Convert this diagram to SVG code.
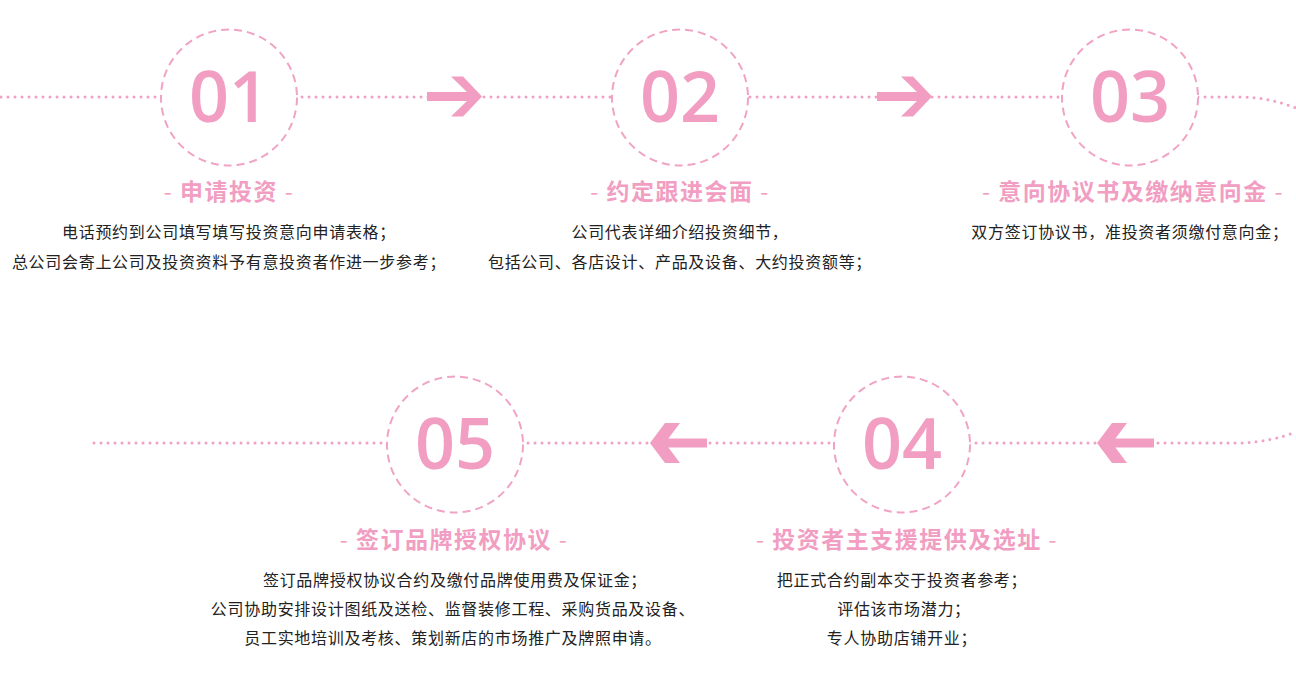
<svg xmlns="http://www.w3.org/2000/svg" width="1296" height="677" viewBox="0 0 1296 677">
<style>
.dot{fill:none;stroke:#f0a0c4;stroke-width:3;stroke-linecap:round;stroke-dasharray:0 7}
.ring{fill:#fff;stroke:#f0a3c5;stroke-width:2;stroke-dasharray:8 5}
.num{font-family:"Open Sans","Noto Sans",sans-serif;font-size:70px;font-weight:600;fill:#f19ec2;text-anchor:middle}
.ttl{font-family:"Noto Sans CJK SC",sans-serif;font-size:23px;font-weight:bold;fill:#f19ec2;text-anchor:middle;letter-spacing:1.5px}
.dash{font-weight:normal}
.txt{font-family:"Noto Sans CJK SC",sans-serif;font-size:16px;fill:#222;text-anchor:middle;letter-spacing:0.7px}
.arr{fill:#f19ec2}
</style>
<defs>
<polygon id="ar" points="-55,-4.5 -15,-4.5 -31,-20 -19,-20 0,0 -19,20 -31,20 -15,4.5 -55,4.5"/>
<polygon id="al" points="-57,-4.5 -18.4,-4.5 -30,-20 -15,-20 0,0 -15,20 -30,20 -18.4,4.5 -57,4.5"/>
</defs>
<rect width="1296" height="677" fill="#fff"/>
<g id="connectors">
<path class="dot" d="M1,97 H1240 C1262,97 1280,102 1296,108"/>
<path class="dot" d="M94,443 H1237 C1260,443 1280,438 1296,432"/>
<use href="#ar" class="arr" transform="translate(482,96.5)"/>
<use href="#ar" class="arr" transform="translate(932,96.5)"/>
<use href="#al" class="arr" transform="translate(650,443) scale(-1,1)"/>
<use href="#al" class="arr" transform="translate(1097,443) scale(-1,1)"/>
</g>
<g id="node01">
<circle class="ring" cx="229" cy="97.5" r="68"/>
<text class="num" x="229" y="122">01</text>
<text class="ttl" x="229" y="200"><tspan class="dash">- </tspan>申请投资<tspan class="dash"> -</tspan></text>
<text class="txt" x="229" y="238">电话预约到公司填写填写投资意向申请表格；</text>
<text class="txt" x="229" y="268">总公司会寄上公司及投资资料予有意投资者作进一步参考；</text>
</g>
<g id="node02">
<circle class="ring" cx="680" cy="97.5" r="68"/>
<text class="num" x="680" y="122">02</text>
<text class="ttl" x="680" y="200"><tspan class="dash">- </tspan>约定跟进会面<tspan class="dash"> -</tspan></text>
<text class="txt" x="680" y="238">公司代表详细介绍投资细节，</text>
<text class="txt" x="680" y="268">包括公司、各店设计、产品及设备、大约投资额等；</text>
</g>
<g id="node03">
<circle class="ring" cx="1130" cy="97.5" r="68"/>
<text class="num" x="1130" y="122">03</text>
<text class="ttl" x="1133" y="200"><tspan class="dash">- </tspan>意向协议书及缴纳意向金<tspan class="dash"> -</tspan></text>
<text class="txt" x="1130" y="238">双方签订协议书，准投资者须缴付意向金；</text>
</g>
<g id="node04">
<circle class="ring" cx="902" cy="444.5" r="68"/>
<text class="num" x="902" y="469">04</text>
<text class="ttl" x="907" y="548"><tspan class="dash">- </tspan>投资者主支援提供及选址<tspan class="dash"> -</tspan></text>
<text class="txt" x="902" y="586">把正式合约副本交于投资者参考；</text>
<text class="txt" x="904" y="615">评估该市场潜力；</text>
<text class="txt" x="902" y="644">专人协助店铺开业；</text>
</g>
<g id="node05">
<circle class="ring" cx="455" cy="444.5" r="68"/>
<text class="num" x="455" y="469">05</text>
<text class="ttl" x="454" y="548"><tspan class="dash">- </tspan>签订品牌授权协议<tspan class="dash"> -</tspan></text>
<text class="txt" x="455" y="586">签订品牌授权协议合约及缴付品牌使用费及保证金；</text>
<text class="txt" x="453" y="615">公司协助安排设计图纸及送检、监督装修工程、采购货品及设备、</text>
<text class="txt" x="453" y="644">员工实地培训及考核、策划新店的市场推广及牌照申请。</text>
</g>
</svg>
